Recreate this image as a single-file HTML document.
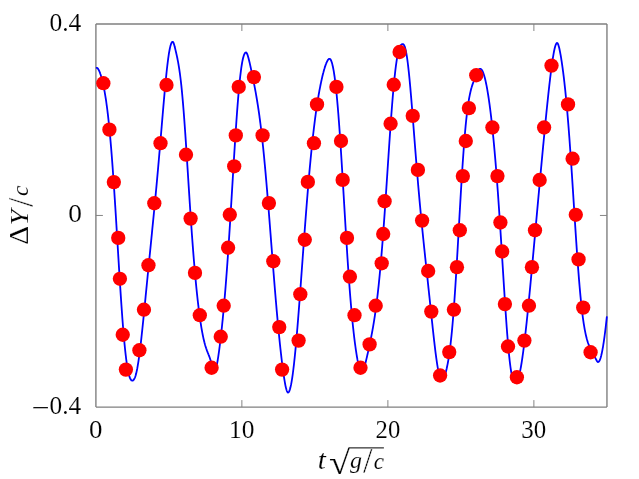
<!DOCTYPE html>
<html><head><meta charset="utf-8"><title>plot</title>
<style>
html,body{margin:0;padding:0;background:#fff;overflow:hidden;}
svg{display:block;}
text{font-family:"Liberation Serif",serif;font-size:25px;fill:#000;stroke:#fff;stroke-width:0.12px;}
</style></head>
<body>
<svg width="639" height="479" viewBox="0 0 639 479">
<rect x="0" y="0" width="639" height="479" fill="#fff"/>
<g stroke="#808080" stroke-width="1.4" fill="none">
<path d="M95.9,24.0H606.95M606.95,24.0V407.08M606.95,407.08H95.9M95.9,407.08V24.0"/>
<path d="M241.86,407.08v-7.0M241.86,24.0v7.0M387.88,407.08v-7.0M387.88,24.0v7.0M533.89,407.08v-7.0M533.89,24.0v7.0M95.9,215.46h7.0M606.95,215.46h-7.0" stroke-width="0.95"/>
</g>
<path d="M95.90,67.8 L96.15,67.8 L96.40,67.8 L96.65,67.8 L96.90,67.8 L97.15,67.9 L97.40,68.1 L97.65,68.3 L97.90,68.6 L98.15,69.0 L98.40,69.4 L98.65,69.8 L98.90,70.3 L99.15,70.8 L99.40,71.4 L99.65,72.0 L99.90,72.7 L100.15,73.3 L100.40,74.1 L100.65,74.8 L100.90,75.6 L101.15,76.4 L101.40,77.3 L101.65,78.2 L101.90,79.1 L102.15,80.0 L102.40,81.0 L102.65,82.1 L102.90,83.2 L103.15,84.3 L103.40,85.4 L103.65,86.6 L103.90,87.9 L104.15,89.2 L104.40,90.5 L104.65,91.9 L104.90,93.3 L105.15,94.8 L105.40,96.3 L105.65,97.9 L105.90,99.5 L106.15,101.2 L106.40,103.0 L106.65,104.8 L106.90,106.6 L107.15,108.5 L107.40,110.5 L107.65,112.6 L107.90,114.7 L108.15,116.9 L108.40,119.1 L108.65,121.4 L108.90,123.8 L109.15,126.3 L109.40,128.8 L109.65,131.4 L109.90,134.0 L110.15,136.7 L110.40,139.5 L110.65,142.4 L110.90,145.3 L111.15,148.3 L111.40,151.4 L111.65,154.5 L111.90,157.8 L112.15,161.0 L112.40,164.4 L112.65,167.8 L112.90,171.2 L113.15,174.8 L113.40,178.3 L113.65,182.0 L113.90,185.7 L114.15,189.4 L114.40,193.2 L114.65,197.1 L114.90,200.9 L115.15,204.9 L115.40,208.8 L115.65,212.8 L115.90,216.8 L116.15,220.9 L116.40,225.0 L116.65,229.1 L116.90,233.2 L117.15,237.3 L117.40,241.4 L117.65,245.5 L117.90,249.7 L118.15,253.8 L118.40,257.9 L118.65,262.0 L118.90,266.1 L119.15,270.1 L119.40,274.1 L119.65,278.1 L119.90,282.1 L120.15,286.0 L120.40,289.8 L120.65,293.6 L120.90,297.4 L121.15,301.1 L121.40,304.8 L121.65,308.3 L121.90,311.9 L122.15,315.3 L122.40,318.7 L122.65,322.0 L122.90,325.2 L123.15,328.3 L123.40,331.3 L123.65,334.3 L123.90,337.2 L124.15,339.9 L124.40,342.6 L124.65,345.2 L124.90,347.7 L125.15,350.1 L125.40,352.4 L125.65,354.6 L125.90,356.7 L126.15,358.8 L126.40,360.7 L126.65,362.5 L126.90,364.2 L127.15,365.9 L127.40,367.4 L127.65,368.8 L127.90,370.2 L128.15,371.4 L128.40,372.6 L128.65,373.7 L128.90,374.7 L129.15,375.6 L129.40,376.4 L129.65,377.2 L129.90,377.8 L130.15,378.4 L130.40,378.9 L130.65,379.4 L130.90,379.7 L131.15,380.0 L131.40,380.3 L131.65,380.4 L131.90,380.5 L132.15,380.6 L132.40,380.6 L132.65,380.5 L132.90,380.5 L133.15,380.3 L133.40,380.1 L133.65,379.9 L133.90,379.5 L134.15,379.2 L134.40,378.7 L134.65,378.2 L134.90,377.6 L135.15,376.9 L135.40,376.2 L135.65,375.4 L135.90,374.5 L136.15,373.6 L136.40,372.5 L136.65,371.4 L136.90,370.2 L137.15,369.0 L137.40,367.6 L137.65,366.2 L137.90,364.7 L138.15,363.2 L138.40,361.6 L138.65,359.9 L138.90,358.2 L139.15,356.4 L139.40,354.5 L139.65,352.6 L139.90,350.6 L140.15,348.6 L140.40,346.5 L140.65,344.4 L140.90,342.3 L141.15,340.1 L141.40,337.8 L141.65,335.5 L141.90,333.2 L142.15,330.9 L142.40,328.5 L142.65,326.1 L142.90,323.7 L143.15,321.3 L143.40,318.8 L143.65,316.4 L143.90,313.9 L144.15,311.4 L144.40,308.9 L144.65,306.4 L144.90,303.8 L145.15,301.3 L145.40,298.8 L145.65,296.2 L145.90,293.7 L146.15,291.2 L146.40,288.6 L146.65,286.1 L146.90,283.5 L147.15,281.0 L147.40,278.5 L147.65,275.9 L147.90,273.4 L148.15,270.9 L148.40,268.3 L148.65,265.8 L148.90,263.3 L149.15,260.8 L149.40,258.3 L149.65,255.8 L149.90,253.3 L150.15,250.8 L150.40,248.3 L150.65,245.8 L150.90,243.3 L151.15,240.8 L151.40,238.3 L151.65,235.8 L151.90,233.3 L152.15,230.7 L152.40,228.2 L152.65,225.7 L152.90,223.2 L153.15,220.7 L153.40,218.1 L153.65,215.6 L153.90,213.0 L154.15,210.5 L154.40,207.9 L154.65,205.3 L154.90,202.7 L155.15,200.1 L155.40,197.4 L155.65,194.8 L155.90,192.1 L156.15,189.5 L156.40,186.8 L156.65,184.1 L156.90,181.4 L157.15,178.6 L157.40,175.9 L157.65,173.1 L157.90,170.3 L158.15,167.5 L158.40,164.7 L158.65,161.8 L158.90,159.0 L159.15,156.1 L159.40,153.2 L159.65,150.3 L159.90,147.4 L160.15,144.5 L160.40,141.6 L160.65,138.6 L160.90,135.7 L161.15,132.7 L161.40,129.7 L161.65,126.8 L161.90,123.8 L162.15,120.9 L162.40,117.9 L162.65,115.0 L162.90,112.0 L163.15,109.1 L163.40,106.2 L163.65,103.3 L163.90,100.5 L164.15,97.6 L164.40,94.8 L164.65,92.0 L164.90,89.3 L165.15,86.6 L165.40,84.0 L165.65,81.4 L165.90,78.8 L166.15,76.3 L166.40,73.9 L166.65,71.5 L166.90,69.2 L167.15,67.0 L167.40,64.8 L167.65,62.8 L167.90,60.8 L168.15,58.9 L168.40,57.1 L168.65,55.4 L168.90,53.7 L169.15,52.2 L169.40,50.8 L169.65,49.5 L169.90,48.2 L170.15,47.1 L170.40,46.1 L170.65,45.2 L170.90,44.4 L171.15,43.7 L171.40,43.1 L171.65,42.7 L171.90,42.3 L172.15,42.0 L172.40,41.8 L172.65,41.8 L172.90,41.8 L173.15,42.1 L173.40,42.6 L173.65,43.2 L173.90,43.9 L174.15,44.7 L174.40,45.6 L174.65,46.6 L174.90,47.5 L175.15,48.5 L175.40,49.6 L175.65,50.6 L175.90,51.7 L176.15,52.7 L176.40,53.9 L176.65,55.0 L176.90,56.1 L177.15,57.3 L177.40,58.5 L177.65,59.8 L177.90,61.1 L178.15,62.4 L178.40,63.8 L178.65,65.3 L178.90,66.8 L179.15,68.4 L179.40,70.1 L179.65,71.8 L179.90,73.6 L180.15,75.5 L180.40,77.5 L180.65,79.5 L180.90,81.7 L181.15,83.9 L181.40,86.2 L181.65,88.7 L181.90,91.2 L182.15,93.8 L182.40,96.5 L182.65,99.3 L182.90,102.2 L183.15,105.1 L183.40,108.2 L183.65,111.3 L183.90,114.6 L184.15,117.9 L184.40,121.3 L184.65,124.7 L184.90,128.2 L185.15,131.8 L185.40,135.4 L185.65,139.1 L185.90,142.9 L186.15,146.6 L186.40,150.4 L186.65,154.3 L186.90,158.2 L187.15,162.1 L187.40,166.0 L187.65,169.9 L187.90,173.8 L188.15,177.8 L188.40,181.7 L188.65,185.6 L188.90,189.5 L189.15,193.4 L189.40,197.3 L189.65,201.2 L189.90,205.0 L190.15,208.8 L190.40,212.5 L190.65,216.2 L190.90,219.9 L191.15,223.5 L191.40,227.1 L191.65,230.7 L191.90,234.2 L192.15,237.6 L192.40,241.0 L192.65,244.4 L192.90,247.6 L193.15,250.9 L193.40,254.1 L193.65,257.2 L193.90,260.3 L194.15,263.3 L194.40,266.2 L194.65,269.1 L194.90,272.0 L195.15,274.8 L195.40,277.5 L195.65,280.2 L195.90,282.9 L196.15,285.4 L196.40,288.0 L196.65,290.4 L196.90,292.8 L197.15,295.2 L197.40,297.5 L197.65,299.8 L197.90,302.0 L198.15,304.1 L198.40,306.2 L198.65,308.3 L198.90,310.3 L199.15,312.2 L199.40,314.2 L199.65,316.0 L199.90,317.8 L200.15,319.6 L200.40,321.3 L200.65,322.9 L200.90,324.5 L201.15,326.1 L201.40,327.6 L201.65,329.1 L201.90,330.5 L202.15,331.9 L202.40,333.2 L202.65,334.5 L202.90,335.7 L203.15,336.9 L203.40,338.1 L203.65,339.2 L203.90,340.3 L204.15,341.3 L204.40,342.3 L204.65,343.2 L204.90,344.2 L205.15,345.0 L205.40,345.9 L205.65,346.7 L205.90,347.5 L206.15,348.3 L206.40,349.0 L206.65,349.7 L206.90,350.4 L207.15,351.1 L207.40,351.7 L207.65,352.4 L207.90,353.0 L208.15,353.6 L208.40,354.3 L208.65,354.9 L208.90,355.5 L209.15,356.2 L209.40,356.8 L209.65,357.5 L209.90,358.2 L210.15,358.9 L210.40,359.7 L210.65,360.5 L210.90,361.3 L211.15,362.1 L211.40,363.0 L211.65,364.0 L211.90,364.9 L212.15,365.9 L212.40,366.9 L212.65,367.9 L212.90,368.9 L213.15,369.9 L213.40,370.7 L213.65,371.5 L213.90,372.1 L214.15,372.4 L214.40,372.5 L214.65,372.3 L214.90,372.0 L215.15,371.5 L215.40,370.9 L215.65,370.1 L215.90,369.2 L216.15,368.3 L216.40,367.2 L216.65,366.0 L216.90,364.7 L217.15,363.4 L217.40,361.9 L217.65,360.5 L217.90,358.9 L218.15,357.3 L218.40,355.6 L218.65,353.9 L218.90,352.1 L219.15,350.3 L219.40,348.4 L219.65,346.5 L219.90,344.5 L220.15,342.5 L220.40,340.4 L220.65,338.3 L220.90,336.1 L221.15,333.9 L221.40,331.7 L221.65,329.4 L221.90,327.1 L222.15,324.7 L222.40,322.2 L222.65,319.8 L222.90,317.2 L223.15,314.6 L223.40,312.0 L223.65,309.3 L223.90,306.6 L224.15,303.8 L224.40,301.0 L224.65,298.1 L224.90,295.1 L225.15,292.1 L225.40,289.1 L225.65,286.0 L225.90,282.8 L226.15,279.6 L226.40,276.3 L226.65,273.0 L226.90,269.6 L227.15,266.2 L227.40,262.7 L227.65,259.1 L227.90,255.6 L228.15,251.9 L228.40,248.2 L228.65,244.5 L228.90,240.7 L229.15,236.9 L229.40,233.0 L229.65,229.1 L229.90,225.2 L230.15,221.2 L230.40,217.2 L230.65,213.2 L230.90,209.1 L231.15,205.1 L231.40,201.0 L231.65,196.9 L231.90,192.8 L232.15,188.6 L232.40,184.5 L232.65,180.4 L232.90,176.2 L233.15,172.1 L233.40,168.0 L233.65,163.9 L233.90,159.9 L234.15,155.8 L234.40,151.8 L234.65,147.8 L234.90,143.9 L235.15,140.0 L235.40,136.2 L235.65,132.4 L235.90,128.6 L236.15,125.0 L236.40,121.3 L236.65,117.8 L236.90,114.3 L237.15,110.9 L237.40,107.6 L237.65,104.4 L237.90,101.2 L238.15,98.1 L238.40,95.2 L238.65,92.3 L238.90,89.5 L239.15,86.8 L239.40,84.2 L239.65,81.7 L239.90,79.3 L240.15,77.0 L240.40,74.9 L240.65,72.8 L240.90,70.8 L241.15,68.9 L241.40,67.2 L241.65,65.5 L241.90,64.0 L242.15,62.5 L242.40,61.2 L242.65,60.0 L242.90,58.8 L243.15,57.8 L243.40,56.9 L243.65,56.0 L243.90,55.3 L244.15,54.6 L244.40,54.1 L244.65,53.6 L244.90,53.2 L245.15,52.9 L245.40,52.7 L245.65,52.6 L245.90,52.5 L246.15,52.5 L246.40,52.7 L246.65,53.0 L246.90,53.4 L247.15,53.9 L247.40,54.6 L247.65,55.3 L247.90,56.0 L248.15,56.9 L248.40,57.8 L248.65,58.7 L248.90,59.7 L249.15,60.7 L249.40,61.7 L249.65,62.8 L249.90,63.9 L250.15,65.0 L250.40,66.1 L250.65,67.3 L250.90,68.4 L251.15,69.6 L251.40,70.7 L251.65,71.9 L251.90,73.1 L252.15,74.3 L252.40,75.5 L252.65,76.7 L252.90,78.0 L253.15,79.2 L253.40,80.5 L253.65,81.7 L253.90,83.0 L254.15,84.3 L254.40,85.5 L254.65,86.9 L254.90,88.2 L255.15,89.5 L255.40,90.9 L255.65,92.2 L255.90,93.6 L256.15,95.1 L256.40,96.5 L256.65,98.0 L256.90,99.4 L257.15,101.0 L257.40,102.5 L257.65,104.1 L257.90,105.7 L258.15,107.3 L258.40,109.0 L258.65,110.6 L258.90,112.4 L259.15,114.1 L259.40,115.9 L259.65,117.8 L259.90,119.6 L260.15,121.6 L260.40,123.5 L260.65,125.5 L260.90,127.5 L261.15,129.6 L261.40,131.7 L261.65,133.9 L261.90,136.1 L262.15,138.3 L262.40,140.6 L262.65,142.9 L262.90,145.3 L263.15,147.7 L263.40,150.1 L263.65,152.6 L263.90,155.1 L264.15,157.7 L264.40,160.3 L264.65,163.0 L264.90,165.6 L265.15,168.4 L265.40,171.1 L265.65,173.9 L265.90,176.8 L266.15,179.6 L266.40,182.5 L266.65,185.5 L266.90,188.4 L267.15,191.4 L267.40,194.4 L267.65,197.5 L267.90,200.5 L268.15,203.6 L268.40,206.7 L268.65,209.9 L268.90,213.0 L269.15,216.2 L269.40,219.4 L269.65,222.6 L269.90,225.8 L270.15,229.0 L270.40,232.2 L270.65,235.4 L270.90,238.6 L271.15,241.9 L271.40,245.1 L271.65,248.3 L271.90,251.5 L272.15,254.7 L272.40,257.9 L272.65,261.1 L272.90,264.3 L273.15,267.5 L273.40,270.7 L273.65,273.8 L273.90,276.9 L274.15,280.0 L274.40,283.1 L274.65,286.2 L274.90,289.2 L275.15,292.2 L275.40,295.2 L275.65,298.2 L275.90,301.1 L276.15,304.0 L276.40,306.9 L276.65,309.8 L276.90,312.6 L277.15,315.4 L277.40,318.1 L277.65,320.8 L277.90,323.5 L278.15,326.2 L278.40,328.8 L278.65,331.4 L278.90,333.9 L279.15,336.5 L279.40,338.9 L279.65,341.4 L279.90,343.8 L280.15,346.1 L280.40,348.5 L280.65,350.7 L280.90,353.0 L281.15,355.2 L281.40,357.4 L281.65,359.5 L281.90,361.6 L282.15,363.6 L282.40,365.6 L282.65,367.5 L282.90,369.4 L283.15,371.3 L283.40,373.1 L283.65,374.8 L283.90,376.5 L284.15,378.1 L284.40,379.7 L284.65,381.2 L284.90,382.6 L285.15,384.0 L285.40,385.3 L285.65,386.5 L285.90,387.6 L286.15,388.6 L286.40,389.5 L286.65,390.3 L286.90,391.0 L287.15,391.6 L287.40,392.0 L287.65,392.3 L287.90,392.5 L288.15,392.5 L288.40,392.4 L288.65,392.1 L288.90,391.8 L289.15,391.4 L289.40,390.8 L289.65,390.2 L289.90,389.4 L290.15,388.5 L290.40,387.6 L290.65,386.5 L290.90,385.4 L291.15,384.2 L291.40,382.8 L291.65,381.4 L291.90,379.9 L292.15,378.3 L292.40,376.6 L292.65,374.8 L292.90,373.0 L293.15,371.0 L293.40,369.0 L293.65,366.9 L293.90,364.8 L294.15,362.5 L294.40,360.2 L294.65,357.8 L294.90,355.4 L295.15,352.9 L295.40,350.3 L295.65,347.7 L295.90,345.0 L296.15,342.2 L296.40,339.4 L296.65,336.6 L296.90,333.6 L297.15,330.7 L297.40,327.7 L297.65,324.6 L297.90,321.6 L298.15,318.4 L298.40,315.3 L298.65,312.1 L298.90,308.9 L299.15,305.6 L299.40,302.3 L299.65,299.0 L299.90,295.7 L300.15,292.3 L300.40,289.0 L300.65,285.6 L300.90,282.2 L301.15,278.8 L301.40,275.4 L301.65,272.0 L301.90,268.5 L302.15,265.1 L302.40,261.7 L302.65,258.2 L302.90,254.8 L303.15,251.4 L303.40,248.0 L303.65,244.6 L303.90,241.2 L304.15,237.8 L304.40,234.4 L304.65,231.1 L304.90,227.7 L305.15,224.4 L305.40,221.1 L305.65,217.9 L305.90,214.6 L306.15,211.4 L306.40,208.2 L306.65,205.0 L306.90,201.9 L307.15,198.8 L307.40,195.7 L307.65,192.6 L307.90,189.6 L308.15,186.6 L308.40,183.7 L308.65,180.7 L308.90,177.9 L309.15,175.0 L309.40,172.2 L309.65,169.4 L309.90,166.7 L310.15,164.0 L310.40,161.3 L310.65,158.7 L310.90,156.1 L311.15,153.6 L311.40,151.1 L311.65,148.6 L311.90,146.2 L312.15,143.8 L312.40,141.5 L312.65,139.2 L312.90,136.9 L313.15,134.7 L313.40,132.5 L313.65,130.3 L313.90,128.2 L314.15,126.1 L314.40,124.1 L314.65,122.1 L314.90,120.2 L315.15,118.2 L315.40,116.3 L315.65,114.5 L315.90,112.7 L316.15,110.9 L316.40,109.1 L316.65,107.4 L316.90,105.8 L317.15,104.1 L317.40,102.5 L317.65,100.9 L317.90,99.4 L318.15,97.9 L318.40,96.4 L318.65,94.9 L318.90,93.5 L319.15,92.1 L319.40,90.7 L319.65,89.4 L319.90,88.1 L320.15,86.8 L320.40,85.5 L320.65,84.3 L320.90,83.1 L321.15,81.9 L321.40,80.7 L321.65,79.6 L321.90,78.5 L322.15,77.4 L322.40,76.3 L322.65,75.3 L322.90,74.3 L323.15,73.3 L323.40,72.4 L323.65,71.4 L323.90,70.5 L324.15,69.6 L324.40,68.8 L324.65,67.9 L324.90,67.1 L325.15,66.4 L325.40,65.6 L325.65,64.9 L325.90,64.2 L326.15,63.6 L326.40,62.9 L326.65,62.3 L326.90,61.8 L327.15,61.3 L327.40,60.8 L327.65,60.4 L327.90,60.0 L328.15,59.6 L328.40,59.4 L328.65,59.1 L328.90,58.9 L329.15,58.8 L329.40,58.8 L329.65,58.8 L329.90,58.9 L330.15,59.1 L330.40,59.3 L330.65,59.7 L330.90,60.1 L331.15,60.7 L331.40,61.3 L331.65,62.0 L331.90,62.8 L332.15,63.6 L332.40,64.6 L332.65,65.7 L332.90,66.8 L333.15,68.0 L333.40,69.3 L333.65,70.7 L333.90,72.2 L334.15,73.8 L334.40,75.5 L334.65,77.2 L334.90,79.1 L335.15,81.1 L335.40,83.1 L335.65,85.2 L335.90,87.5 L336.15,89.8 L336.40,92.2 L336.65,94.7 L336.90,97.3 L337.15,100.0 L337.40,102.8 L337.65,105.7 L337.90,108.6 L338.15,111.7 L338.40,114.8 L338.65,118.1 L338.90,121.4 L339.15,124.7 L339.40,128.2 L339.65,131.7 L339.90,135.3 L340.15,139.0 L340.40,142.7 L340.65,146.5 L340.90,150.4 L341.15,154.3 L341.40,158.2 L341.65,162.2 L341.90,166.2 L342.15,170.3 L342.40,174.4 L342.65,178.6 L342.90,182.7 L343.15,186.9 L343.40,191.1 L343.65,195.3 L343.90,199.5 L344.15,203.7 L344.40,207.9 L344.65,212.1 L344.90,216.3 L345.15,220.5 L345.40,224.7 L345.65,228.8 L345.90,232.9 L346.15,236.9 L346.40,241.0 L346.65,245.0 L346.90,248.9 L347.15,252.8 L347.40,256.7 L347.65,260.5 L347.90,264.2 L348.15,267.9 L348.40,271.5 L348.65,275.1 L348.90,278.6 L349.15,282.0 L349.40,285.4 L349.65,288.7 L349.90,292.0 L350.15,295.2 L350.40,298.3 L350.65,301.3 L350.90,304.3 L351.15,307.2 L351.40,310.0 L351.65,312.8 L351.90,315.5 L352.15,318.1 L352.40,320.6 L352.65,323.1 L352.90,325.6 L353.15,327.9 L353.40,330.2 L353.65,332.5 L353.90,334.7 L354.15,336.8 L354.40,338.9 L354.65,340.9 L354.90,342.8 L355.15,344.7 L355.40,346.5 L355.65,348.3 L355.90,350.1 L356.15,351.7 L356.40,353.4 L356.65,354.9 L356.90,356.5 L357.15,357.9 L357.40,359.4 L357.65,360.7 L357.90,362.1 L358.15,363.3 L358.40,364.5 L358.65,365.7 L358.90,366.8 L359.15,367.8 L359.40,368.7 L359.65,369.6 L359.90,370.4 L360.15,371.1 L360.40,371.7 L360.65,372.2 L360.90,372.6 L361.15,372.9 L361.40,373.0 L361.65,373.0 L361.90,372.8 L362.15,372.6 L362.40,372.2 L362.65,371.8 L362.90,371.3 L363.15,370.7 L363.40,370.0 L363.65,369.3 L363.90,368.6 L364.15,367.8 L364.40,366.9 L364.65,366.0 L364.90,365.1 L365.15,364.2 L365.40,363.2 L365.65,362.2 L365.90,361.2 L366.15,360.2 L366.40,359.1 L366.65,358.1 L366.90,357.0 L367.15,355.9 L367.40,354.8 L367.65,353.7 L367.90,352.6 L368.15,351.5 L368.40,350.4 L368.65,349.2 L368.90,348.1 L369.15,346.9 L369.40,345.8 L369.65,344.6 L369.90,343.4 L370.15,342.2 L370.40,341.0 L370.65,339.7 L370.90,338.5 L371.15,337.2 L371.40,336.0 L371.65,334.7 L371.90,333.3 L372.15,332.0 L372.40,330.6 L372.65,329.2 L372.90,327.8 L373.15,326.4 L373.40,324.9 L373.65,323.4 L373.90,321.9 L374.15,320.3 L374.40,318.7 L374.65,317.1 L374.90,315.4 L375.15,313.7 L375.40,312.0 L375.65,310.2 L375.90,308.4 L376.15,306.5 L376.40,304.6 L376.65,302.6 L376.90,300.6 L377.15,298.6 L377.40,296.5 L377.65,294.4 L377.90,292.2 L378.15,289.9 L378.40,287.6 L378.65,285.3 L378.90,282.9 L379.15,280.4 L379.40,277.9 L379.65,275.3 L379.90,272.7 L380.15,270.0 L380.40,267.3 L380.65,264.5 L380.90,261.7 L381.15,258.8 L381.40,255.9 L381.65,252.9 L381.90,249.8 L382.15,246.7 L382.40,243.6 L382.65,240.3 L382.90,237.1 L383.15,233.8 L383.40,230.4 L383.65,227.1 L383.90,223.6 L384.15,220.1 L384.40,216.6 L384.65,213.1 L384.90,209.5 L385.15,205.9 L385.40,202.2 L385.65,198.5 L385.90,194.8 L386.15,191.1 L386.40,187.4 L386.65,183.6 L386.90,179.8 L387.15,176.1 L387.40,172.3 L387.65,168.5 L387.90,164.7 L388.15,160.9 L388.40,157.2 L388.65,153.4 L388.90,149.7 L389.15,146.0 L389.40,142.3 L389.65,138.6 L389.90,135.0 L390.15,131.4 L390.40,127.8 L390.65,124.3 L390.90,120.8 L391.15,117.4 L391.40,114.0 L391.65,110.7 L391.90,107.5 L392.15,104.3 L392.40,101.2 L392.65,98.1 L392.90,95.2 L393.15,92.3 L393.40,89.4 L393.65,86.7 L393.90,84.0 L394.15,81.5 L394.40,79.0 L394.65,76.6 L394.90,74.3 L395.15,72.1 L395.40,69.9 L395.65,67.9 L395.90,65.9 L396.15,64.1 L396.40,62.3 L396.65,60.7 L396.90,59.1 L397.15,57.6 L397.40,56.2 L397.65,54.9 L397.90,53.7 L398.15,52.5 L398.40,51.5 L398.65,50.5 L398.90,49.6 L399.15,48.8 L399.40,48.1 L399.65,47.4 L399.90,46.9 L400.15,46.3 L400.40,45.9 L400.65,45.5 L400.90,45.1 L401.15,44.8 L401.40,44.6 L401.65,44.4 L401.90,44.3 L402.15,44.2 L402.40,44.1 L402.65,44.1 L402.90,44.1 L403.15,44.2 L403.40,44.3 L403.65,44.6 L403.90,44.9 L404.15,45.3 L404.40,45.8 L404.65,46.4 L404.90,47.1 L405.15,48.0 L405.40,48.9 L405.65,49.9 L405.90,51.0 L406.15,52.3 L406.40,53.6 L406.65,55.1 L406.90,56.7 L407.15,58.4 L407.40,60.1 L407.65,62.0 L407.90,64.0 L408.15,66.1 L408.40,68.3 L408.65,70.6 L408.90,72.9 L409.15,75.4 L409.40,77.9 L409.65,80.5 L409.90,83.2 L410.15,85.9 L410.40,88.7 L410.65,91.6 L410.90,94.5 L411.15,97.4 L411.40,100.4 L411.65,103.5 L411.90,106.5 L412.15,109.7 L412.40,112.8 L412.65,115.9 L412.90,119.1 L413.15,122.3 L413.40,125.5 L413.65,128.7 L413.90,131.9 L414.15,135.1 L414.40,138.3 L414.65,141.5 L414.90,144.7 L415.15,147.9 L415.40,151.1 L415.65,154.3 L415.90,157.4 L416.15,160.5 L416.40,163.6 L416.65,166.7 L416.90,169.7 L417.15,172.8 L417.40,175.8 L417.65,178.7 L417.90,181.7 L418.15,184.6 L418.40,187.5 L418.65,190.4 L418.90,193.2 L419.15,196.0 L419.40,198.8 L419.65,201.6 L419.90,204.3 L420.15,207.0 L420.40,209.7 L420.65,212.3 L420.90,214.9 L421.15,217.5 L421.40,220.1 L421.65,222.7 L421.90,225.2 L422.15,227.7 L422.40,230.2 L422.65,232.7 L422.90,235.2 L423.15,237.6 L423.40,240.0 L423.65,242.5 L423.90,244.9 L424.15,247.3 L424.40,249.7 L424.65,252.0 L424.90,254.4 L425.15,256.8 L425.40,259.1 L425.65,261.5 L425.90,263.8 L426.15,266.2 L426.40,268.5 L426.65,270.8 L426.90,273.2 L427.15,275.5 L427.40,277.9 L427.65,280.2 L427.90,282.6 L428.15,284.9 L428.40,287.3 L428.65,289.6 L428.90,292.0 L429.15,294.3 L429.40,296.7 L429.65,299.0 L429.90,301.4 L430.15,303.8 L430.40,306.1 L430.65,308.5 L430.90,310.9 L431.15,313.2 L431.40,315.6 L431.65,317.9 L431.90,320.3 L432.15,322.6 L432.40,324.9 L432.65,327.3 L432.90,329.6 L433.15,331.8 L433.40,334.1 L433.65,336.4 L433.90,338.6 L434.15,340.8 L434.40,342.9 L434.65,345.1 L434.90,347.2 L435.15,349.3 L435.40,351.3 L435.65,353.3 L435.90,355.2 L436.15,357.1 L436.40,358.9 L436.65,360.7 L436.90,362.4 L437.15,364.1 L437.40,365.7 L437.65,367.2 L437.90,368.6 L438.15,370.0 L438.40,371.3 L438.65,372.5 L438.90,373.7 L439.15,374.7 L439.40,375.7 L439.65,376.6 L439.90,377.4 L440.15,378.1 L440.40,378.7 L440.65,379.2 L440.90,379.7 L441.15,380.0 L441.40,380.3 L441.65,380.4 L441.90,380.5 L442.15,380.5 L442.40,380.4 L442.65,380.2 L442.90,379.9 L443.15,379.5 L443.40,379.1 L443.65,378.6 L443.90,378.0 L444.15,377.4 L444.40,376.7 L444.65,376.0 L444.90,375.3 L445.15,374.5 L445.40,373.6 L445.65,372.7 L445.90,371.8 L446.15,370.8 L446.40,369.7 L446.65,368.7 L446.90,367.5 L447.15,366.3 L447.40,365.1 L447.65,363.8 L447.90,362.5 L448.15,361.1 L448.40,359.6 L448.65,358.1 L448.90,356.5 L449.15,354.8 L449.40,353.1 L449.65,351.2 L449.90,349.4 L450.15,347.4 L450.40,345.3 L450.65,343.2 L450.90,341.0 L451.15,338.7 L451.40,336.3 L451.65,333.8 L451.90,331.3 L452.15,328.6 L452.40,325.8 L452.65,323.0 L452.90,320.1 L453.15,317.0 L453.40,313.9 L453.65,310.7 L453.90,307.4 L454.15,304.0 L454.40,300.5 L454.65,296.9 L454.90,293.3 L455.15,289.5 L455.40,285.7 L455.65,281.8 L455.90,277.9 L456.15,273.8 L456.40,269.8 L456.65,265.6 L456.90,261.4 L457.15,257.2 L457.40,252.9 L457.65,248.6 L457.90,244.2 L458.15,239.8 L458.40,235.4 L458.65,231.0 L458.90,226.6 L459.15,222.2 L459.40,217.8 L459.65,213.4 L459.90,209.1 L460.15,204.7 L460.40,200.4 L460.65,196.1 L460.90,191.9 L461.15,187.7 L461.40,183.6 L461.65,179.5 L461.90,175.5 L462.15,171.6 L462.40,167.8 L462.65,164.0 L462.90,160.3 L463.15,156.7 L463.40,153.2 L463.65,149.7 L463.90,146.4 L464.15,143.2 L464.40,140.0 L464.65,137.0 L464.90,134.0 L465.15,131.2 L465.40,128.4 L465.65,125.7 L465.90,123.2 L466.15,120.7 L466.40,118.4 L466.65,116.1 L466.90,113.9 L467.15,111.8 L467.40,109.9 L467.65,108.0 L467.90,106.1 L468.15,104.4 L468.40,102.7 L468.65,101.2 L468.90,99.7 L469.15,98.2 L469.40,96.9 L469.65,95.6 L469.90,94.4 L470.15,93.2 L470.40,92.1 L470.65,91.0 L470.90,90.0 L471.15,89.0 L471.40,88.1 L471.65,87.3 L471.90,86.4 L472.15,85.6 L472.40,84.9 L472.65,84.1 L472.90,83.4 L473.15,82.7 L473.40,82.1 L473.65,81.4 L473.90,80.8 L474.15,80.2 L474.40,79.6 L474.65,79.0 L474.90,78.4 L475.15,77.8 L475.40,77.2 L475.65,76.7 L475.90,76.1 L476.15,75.5 L476.40,75.0 L476.65,74.4 L476.90,73.8 L477.15,73.3 L477.40,72.7 L477.65,72.2 L477.90,71.6 L478.15,71.1 L478.40,70.6 L478.65,70.2 L478.90,69.7 L479.15,69.4 L479.40,69.1 L479.65,68.9 L479.90,68.8 L480.15,68.8 L480.40,68.8 L480.65,68.9 L480.90,69.1 L481.15,69.3 L481.40,69.5 L481.65,69.8 L481.90,70.1 L482.15,70.5 L482.40,71.0 L482.65,71.5 L482.90,72.0 L483.15,72.6 L483.40,73.3 L483.65,74.0 L483.90,74.7 L484.15,75.5 L484.40,76.4 L484.65,77.3 L484.90,78.2 L485.15,79.2 L485.40,80.3 L485.65,81.4 L485.90,82.5 L486.15,83.7 L486.40,84.9 L486.65,86.2 L486.90,87.5 L487.15,88.9 L487.40,90.3 L487.65,91.8 L487.90,93.3 L488.15,94.9 L488.40,96.5 L488.65,98.2 L488.90,99.9 L489.15,101.6 L489.40,103.4 L489.65,105.2 L489.90,107.1 L490.15,109.0 L490.40,111.0 L490.65,113.0 L490.90,115.1 L491.15,117.2 L491.40,119.4 L491.65,121.6 L491.90,123.8 L492.15,126.2 L492.40,128.5 L492.65,130.9 L492.90,133.4 L493.15,135.9 L493.40,138.4 L493.65,141.0 L493.90,143.7 L494.15,146.4 L494.40,149.1 L494.65,151.9 L494.90,154.8 L495.15,157.7 L495.40,160.6 L495.65,163.6 L495.90,166.7 L496.15,169.8 L496.40,172.9 L496.65,176.2 L496.90,179.4 L497.15,182.7 L497.40,186.1 L497.65,189.5 L497.90,192.9 L498.15,196.4 L498.40,200.0 L498.65,203.6 L498.90,207.2 L499.15,210.9 L499.40,214.6 L499.65,218.4 L499.90,222.1 L500.15,226.0 L500.40,229.8 L500.65,233.7 L500.90,237.6 L501.15,241.6 L501.40,245.5 L501.65,249.5 L501.90,253.5 L502.15,257.5 L502.40,261.5 L502.65,265.5 L502.90,269.5 L503.15,273.5 L503.40,277.5 L503.65,281.5 L503.90,285.5 L504.15,289.4 L504.40,293.3 L504.65,297.2 L504.90,301.0 L505.15,304.8 L505.40,308.6 L505.65,312.3 L505.90,315.9 L506.15,319.5 L506.40,323.0 L506.65,326.5 L506.90,329.8 L507.15,333.1 L507.40,336.3 L507.65,339.4 L507.90,342.4 L508.15,345.3 L508.40,348.1 L508.65,350.8 L508.90,353.4 L509.15,355.9 L509.40,358.2 L509.65,360.5 L509.90,362.6 L510.15,364.6 L510.40,366.5 L510.65,368.3 L510.90,370.0 L511.15,371.5 L511.40,372.9 L511.65,374.2 L511.90,375.4 L512.15,376.5 L512.40,377.5 L512.65,378.3 L512.90,379.1 L513.15,379.8 L513.40,380.4 L513.65,380.9 L513.90,381.3 L514.15,381.6 L514.40,381.9 L514.65,382.1 L514.90,382.3 L515.15,382.4 L515.40,382.5 L515.65,382.5 L515.90,382.5 L516.15,382.4 L516.40,382.3 L516.65,382.0 L516.90,381.7 L517.15,381.3 L517.40,380.8 L517.65,380.3 L517.90,379.7 L518.15,379.0 L518.40,378.2 L518.65,377.4 L518.90,376.5 L519.15,375.5 L519.40,374.5 L519.65,373.4 L519.90,372.2 L520.15,371.0 L520.40,369.7 L520.65,368.4 L520.90,367.0 L521.15,365.5 L521.40,364.0 L521.65,362.5 L521.90,360.9 L522.15,359.2 L522.40,357.5 L522.65,355.7 L522.90,353.9 L523.15,352.1 L523.40,350.2 L523.65,348.3 L523.90,346.3 L524.15,344.3 L524.40,342.2 L524.65,340.1 L524.90,338.0 L525.15,335.9 L525.40,333.7 L525.65,331.5 L525.90,329.2 L526.15,326.9 L526.40,324.6 L526.65,322.3 L526.90,319.9 L527.15,317.5 L527.40,315.1 L527.65,312.7 L527.90,310.2 L528.15,307.7 L528.40,305.2 L528.65,302.7 L528.90,300.2 L529.15,297.6 L529.40,295.1 L529.65,292.5 L529.90,289.9 L530.15,287.3 L530.40,284.7 L530.65,282.0 L530.90,279.4 L531.15,276.7 L531.40,274.0 L531.65,271.4 L531.90,268.7 L532.15,266.0 L532.40,263.3 L532.65,260.6 L532.90,257.8 L533.15,255.1 L533.40,252.4 L533.65,249.7 L533.90,246.9 L534.15,244.2 L534.40,241.4 L534.65,238.7 L534.90,235.9 L535.15,233.2 L535.40,230.4 L535.65,227.7 L535.90,224.9 L536.15,222.2 L536.40,219.4 L536.65,216.7 L536.90,213.9 L537.15,211.2 L537.40,208.4 L537.65,205.7 L537.90,202.9 L538.15,200.2 L538.40,197.4 L538.65,194.7 L538.90,192.0 L539.15,189.2 L539.40,186.5 L539.65,183.8 L539.90,181.1 L540.15,178.3 L540.40,175.6 L540.65,172.9 L540.90,170.2 L541.15,167.5 L541.40,164.8 L541.65,162.2 L541.90,159.5 L542.15,156.8 L542.40,154.2 L542.65,151.5 L542.90,148.9 L543.15,146.2 L543.40,143.6 L543.65,141.0 L543.90,138.4 L544.15,135.8 L544.40,133.2 L544.65,130.6 L544.90,128.0 L545.15,125.5 L545.40,122.9 L545.65,120.4 L545.90,117.9 L546.15,115.4 L546.40,112.9 L546.65,110.4 L546.90,108.0 L547.15,105.6 L547.40,103.2 L547.65,100.8 L547.90,98.4 L548.15,96.0 L548.40,93.7 L548.65,91.4 L548.90,89.2 L549.15,86.9 L549.40,84.7 L549.65,82.5 L549.90,80.4 L550.15,78.2 L550.40,76.2 L550.65,74.1 L550.90,72.1 L551.15,70.2 L551.40,68.2 L551.65,66.4 L551.90,64.5 L552.15,62.8 L552.40,61.1 L552.65,59.4 L552.90,57.8 L553.15,56.3 L553.40,54.8 L553.65,53.4 L553.90,52.0 L554.15,50.8 L554.40,49.6 L554.65,48.5 L554.90,47.5 L555.15,46.6 L555.40,45.8 L555.65,45.0 L555.90,44.4 L556.15,43.9 L556.40,43.5 L556.65,43.2 L556.90,43.0 L557.15,43.0 L557.40,43.1 L557.65,43.4 L557.90,43.8 L558.15,44.4 L558.40,45.1 L558.65,45.9 L558.90,46.8 L559.15,47.8 L559.40,48.8 L559.65,50.0 L559.90,51.2 L560.15,52.5 L560.40,53.8 L560.65,55.2 L560.90,56.7 L561.15,58.2 L561.40,59.8 L561.65,61.4 L561.90,63.1 L562.15,64.8 L562.40,66.6 L562.65,68.4 L562.90,70.3 L563.15,72.2 L563.40,74.2 L563.65,76.2 L563.90,78.2 L564.15,80.4 L564.40,82.5 L564.65,84.8 L564.90,87.1 L565.15,89.4 L565.40,91.8 L565.65,94.3 L565.90,96.8 L566.15,99.4 L566.40,102.0 L566.65,104.7 L566.90,107.4 L567.15,110.3 L567.40,113.1 L567.65,116.1 L567.90,119.1 L568.15,122.1 L568.40,125.2 L568.65,128.4 L568.90,131.7 L569.15,135.0 L569.40,138.3 L569.65,141.7 L569.90,145.2 L570.15,148.7 L570.40,152.2 L570.65,155.8 L570.90,159.5 L571.15,163.2 L571.40,166.9 L571.65,170.7 L571.90,174.4 L572.15,178.3 L572.40,182.1 L572.65,186.0 L572.90,189.9 L573.15,193.8 L573.40,197.7 L573.65,201.6 L573.90,205.5 L574.15,209.4 L574.40,213.4 L574.65,217.3 L574.90,221.1 L575.15,225.0 L575.40,228.9 L575.65,232.7 L575.90,236.5 L576.15,240.2 L576.40,243.9 L576.65,247.6 L576.90,251.2 L577.15,254.8 L577.40,258.3 L577.65,261.7 L577.90,265.1 L578.15,268.5 L578.40,271.7 L578.65,274.9 L578.90,278.1 L579.15,281.1 L579.40,284.1 L579.65,287.0 L579.90,289.9 L580.15,292.6 L580.40,295.3 L580.65,297.9 L580.90,300.5 L581.15,302.9 L581.40,305.3 L581.65,307.5 L581.90,309.8 L582.15,311.9 L582.40,313.9 L582.65,315.9 L582.90,317.8 L583.15,319.6 L583.40,321.4 L583.65,323.1 L583.90,324.7 L584.15,326.2 L584.40,327.7 L584.65,329.1 L584.90,330.4 L585.15,331.7 L585.40,332.9 L585.65,334.1 L585.90,335.2 L586.15,336.3 L586.40,337.3 L586.65,338.3 L586.90,339.2 L587.15,340.1 L587.40,340.9 L587.65,341.7 L587.90,342.5 L588.15,343.2 L588.40,343.9 L588.65,344.5 L588.90,345.2 L589.15,345.8 L589.40,346.4 L589.65,346.9 L589.90,347.5 L590.15,348.0 L590.40,348.5 L590.65,349.0 L590.90,349.5 L591.15,350.0 L591.40,350.4 L591.65,350.9 L591.90,351.4 L592.15,351.8 L592.40,352.3 L592.65,352.8 L592.90,353.2 L593.15,353.7 L593.40,354.2 L593.65,354.6 L593.90,355.1 L594.15,355.6 L594.40,356.1 L594.65,356.6 L594.90,357.1 L595.15,357.6 L595.40,358.1 L595.65,358.6 L595.90,359.1 L596.15,359.6 L596.40,360.1 L596.65,360.5 L596.90,360.9 L597.15,361.3 L597.40,361.6 L597.65,361.8 L597.90,362.0 L598.15,362.0 L598.40,361.9 L598.65,361.8 L598.90,361.6 L599.15,361.2 L599.40,360.9 L599.65,360.4 L599.90,359.8 L600.15,359.2 L600.40,358.5 L600.65,357.7 L600.90,356.8 L601.15,355.9 L601.40,354.8 L601.65,353.7 L601.90,352.6 L602.15,351.4 L602.40,350.1 L602.65,348.7 L602.90,347.3 L603.15,345.8 L603.40,344.2 L603.65,342.6 L603.90,340.9 L604.15,339.1 L604.40,337.3 L604.65,335.5 L604.90,333.5 L605.15,331.6 L605.40,329.5 L605.65,327.5 L605.90,325.3 L606.15,323.1 L606.40,320.9 L606.65,318.6 L606.90,316.3" fill="none" stroke="#0000ff" stroke-width="1.8" stroke-linejoin="round"/>
<g fill="#ff0000">
<circle cx="103.35" cy="83.20" r="7.15"/>
<circle cx="109.40" cy="129.65" r="7.15"/>
<circle cx="113.85" cy="182.10" r="7.15"/>
<circle cx="118.25" cy="237.90" r="7.15"/>
<circle cx="119.90" cy="278.80" r="7.15"/>
<circle cx="122.75" cy="334.75" r="7.15"/>
<circle cx="125.90" cy="369.60" r="7.15"/>
<circle cx="139.40" cy="350.25" r="7.15"/>
<circle cx="143.95" cy="309.70" r="7.15"/>
<circle cx="148.45" cy="265.25" r="7.15"/>
<circle cx="154.30" cy="203.25" r="7.15"/>
<circle cx="160.50" cy="143.20" r="7.15"/>
<circle cx="166.50" cy="85.00" r="7.15"/>
<circle cx="186.00" cy="154.70" r="7.15"/>
<circle cx="190.60" cy="218.60" r="7.15"/>
<circle cx="195.00" cy="272.90" r="7.15"/>
<circle cx="199.80" cy="315.20" r="7.15"/>
<circle cx="211.60" cy="367.75" r="7.15"/>
<circle cx="220.75" cy="336.70" r="7.15"/>
<circle cx="223.70" cy="305.70" r="7.15"/>
<circle cx="228.10" cy="247.75" r="7.15"/>
<circle cx="229.80" cy="214.75" r="7.15"/>
<circle cx="234.20" cy="166.30" r="7.15"/>
<circle cx="235.80" cy="135.40" r="7.15"/>
<circle cx="238.75" cy="86.90" r="7.15"/>
<circle cx="253.90" cy="77.10" r="7.15"/>
<circle cx="262.60" cy="135.40" r="7.15"/>
<circle cx="268.90" cy="203.10" r="7.15"/>
<circle cx="273.30" cy="261.25" r="7.15"/>
<circle cx="279.25" cy="327.10" r="7.15"/>
<circle cx="282.10" cy="369.60" r="7.15"/>
<circle cx="298.60" cy="340.60" r="7.15"/>
<circle cx="300.30" cy="294.20" r="7.15"/>
<circle cx="304.80" cy="239.75" r="7.15"/>
<circle cx="307.85" cy="181.90" r="7.15"/>
<circle cx="313.95" cy="143.20" r="7.15"/>
<circle cx="317.00" cy="104.40" r="7.15"/>
<circle cx="336.40" cy="86.90" r="7.15"/>
<circle cx="341.00" cy="141.00" r="7.15"/>
<circle cx="342.65" cy="179.90" r="7.15"/>
<circle cx="347.00" cy="237.90" r="7.15"/>
<circle cx="349.90" cy="276.70" r="7.15"/>
<circle cx="354.50" cy="315.20" r="7.15"/>
<circle cx="360.50" cy="367.75" r="7.15"/>
<circle cx="369.60" cy="344.40" r="7.15"/>
<circle cx="375.70" cy="305.70" r="7.15"/>
<circle cx="381.70" cy="263.30" r="7.15"/>
<circle cx="383.20" cy="234.00" r="7.15"/>
<circle cx="384.60" cy="201.25" r="7.15"/>
<circle cx="390.60" cy="123.75" r="7.15"/>
<circle cx="393.75" cy="84.75" r="7.15"/>
<circle cx="399.60" cy="52.00" r="7.15"/>
<circle cx="412.75" cy="115.90" r="7.15"/>
<circle cx="417.90" cy="169.90" r="7.15"/>
<circle cx="422.10" cy="220.60" r="7.15"/>
<circle cx="428.15" cy="271.00" r="7.15"/>
<circle cx="431.30" cy="311.60" r="7.15"/>
<circle cx="440.10" cy="375.50" r="7.15"/>
<circle cx="449.25" cy="352.10" r="7.15"/>
<circle cx="453.90" cy="309.70" r="7.15"/>
<circle cx="456.95" cy="267.15" r="7.15"/>
<circle cx="459.80" cy="230.25" r="7.15"/>
<circle cx="462.85" cy="176.10" r="7.15"/>
<circle cx="465.80" cy="141.00" r="7.15"/>
<circle cx="468.90" cy="108.10" r="7.15"/>
<circle cx="476.25" cy="75.25" r="7.15"/>
<circle cx="492.40" cy="127.50" r="7.15"/>
<circle cx="497.45" cy="176.10" r="7.15"/>
<circle cx="500.40" cy="222.50" r="7.15"/>
<circle cx="502.15" cy="251.50" r="7.15"/>
<circle cx="504.90" cy="304.10" r="7.15"/>
<circle cx="508.00" cy="346.50" r="7.15"/>
<circle cx="516.90" cy="377.25" r="7.15"/>
<circle cx="524.40" cy="340.60" r="7.15"/>
<circle cx="528.95" cy="305.70" r="7.15"/>
<circle cx="531.95" cy="267.15" r="7.15"/>
<circle cx="535.00" cy="230.25" r="7.15"/>
<circle cx="539.65" cy="180.00" r="7.15"/>
<circle cx="544.10" cy="127.50" r="7.15"/>
<circle cx="551.50" cy="65.60" r="7.15"/>
<circle cx="568.00" cy="104.40" r="7.15"/>
<circle cx="572.60" cy="158.70" r="7.15"/>
<circle cx="575.80" cy="214.80" r="7.15"/>
<circle cx="578.55" cy="259.40" r="7.15"/>
<circle cx="583.20" cy="307.60" r="7.15"/>
<circle cx="590.60" cy="352.25" r="7.15"/>
</g>
<text transform="translate(49.38,30.50) scale(1.038,1.000)" style="font-size:24.60px;">0.4</text>
<text transform="translate(68.30,222.05) scale(1.113,1.000)" style="font-size:24.60px;">0</text>
<text><tspan x="31.65" y="415.95" textLength="18.01" lengthAdjust="spacingAndGlyphs" style="font-size:24.60px;">−</tspan><tspan x="49.49" y="413.65" textLength="31.69" lengthAdjust="spacingAndGlyphs" style="font-size:24.60px;">0.4</tspan></text>
<text transform="translate(89.02,438.05) scale(1.094,1.000)" style="font-size:24.60px;">0</text>
<text transform="translate(229.01,438.05) scale(1.033,1.000)" style="font-size:24.60px;">10</text>
<text transform="translate(375.59,438.05) scale(1.004,1.000)" style="font-size:24.60px;">20</text>
<text transform="translate(521.35,438.05) scale(1.014,1.000)" style="font-size:24.60px;">30</text>
<text transform="translate(27.7,244) rotate(-90)"><tspan x="-1.10" y="0.00" textLength="19.24" lengthAdjust="spacingAndGlyphs" style="font-size:26.72px;">Δ</tspan><tspan x="18.48" y="0.00" textLength="15.97" lengthAdjust="spacingAndGlyphs" style="font-size:25.85px;font-style:italic;">Y</tspan><tspan x="37.00" y="5.23" textLength="9.30" lengthAdjust="spacingAndGlyphs" style="font-size:36.54px;stroke-width:0.45px;">/</tspan><tspan x="48.00" y="-0.04" textLength="10.41" lengthAdjust="spacingAndGlyphs" style="font-size:23.96px;font-style:italic;">c</tspan></text>
<text><tspan x="317.69" y="468.52" textLength="8.06" lengthAdjust="spacingAndGlyphs" style="font-size:27.54px;font-style:italic;">t</tspan><tspan x="329.04" y="474.03" textLength="21.11" lengthAdjust="spacingAndGlyphs" style="font-size:33.71px;">√</tspan><tspan x="350.00" y="468.21" textLength="11.97" lengthAdjust="spacingAndGlyphs" style="font-size:23.31px;font-style:italic;">g</tspan><tspan x="363.10" y="473.39" textLength="9.50" lengthAdjust="spacingAndGlyphs" style="font-size:36.09px;stroke-width:0.45px;">/</tspan><tspan x="373.71" y="468.66" textLength="10.25" lengthAdjust="spacingAndGlyphs" style="font-size:23.75px;font-style:italic;">c</tspan></text>
<path d="M349.3,447.9H383.9" stroke="#000" stroke-width="1" fill="none"/>
</svg>
</body></html>
